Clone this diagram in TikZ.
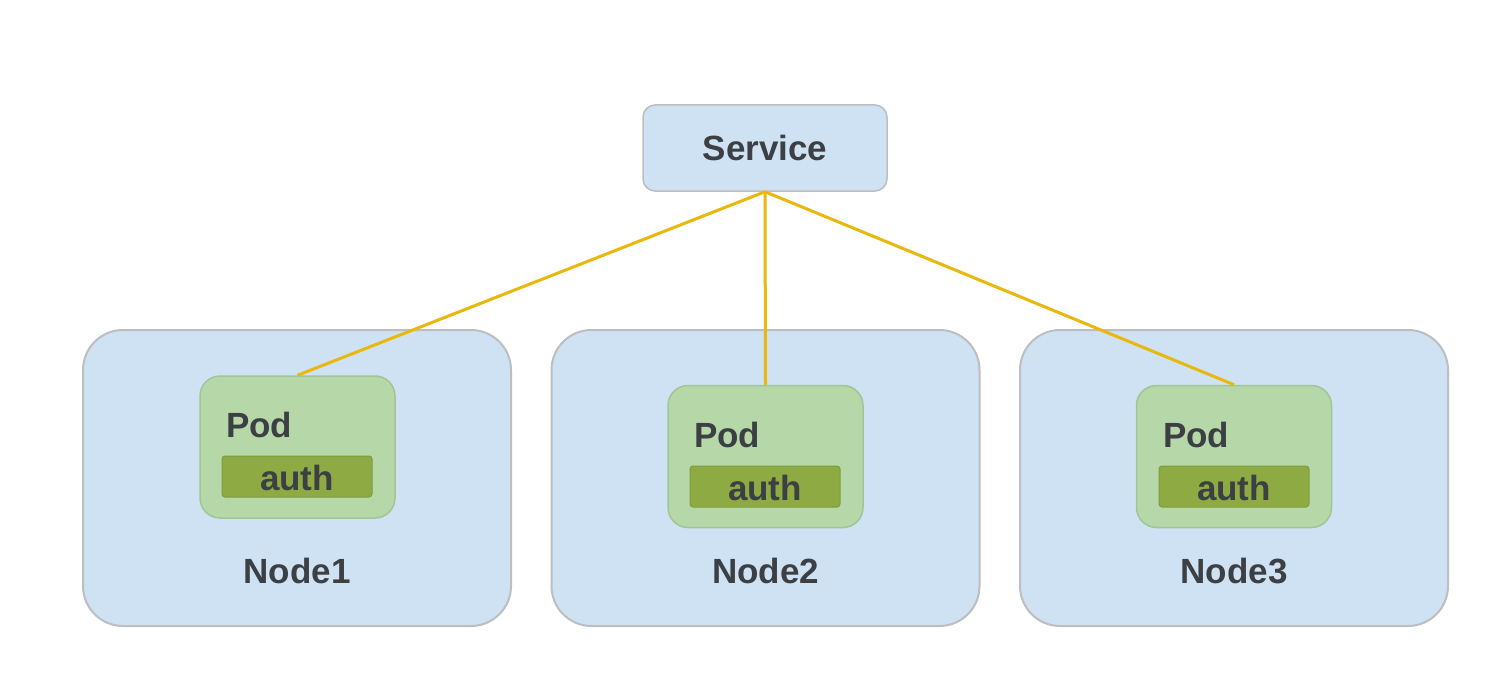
\documentclass[tikz,border=0pt]{standalone}
\usepackage{fontspec}
\setmainfont{Liberation Sans}
\definecolor{txt}{HTML}{3C3F43}
\definecolor{nodefill}{HTML}{CFE2F3}
\definecolor{nodeline}{HTML}{BDBEC0}
\definecolor{podfill}{HTML}{B6D7A8}
\definecolor{podline}{HTML}{A3C496}
\definecolor{authfill}{HTML}{8DAB42}
\definecolor{wire}{HTML}{E8B80C}
\tikzset{
  hostbox/.style={draw=nodeline, line width=2pt, fill=nodefill, rounded corners=40pt, minimum width=428pt, minimum height=296pt, inner sep=0pt},
  podbox/.style={draw=podline, line width=1.5pt, fill=podfill, rounded corners=20pt, minimum width=195pt, minimum height=142pt, inner sep=0pt},
  authbar/.style={draw=authfill!85!black!60!authfill, line width=1pt, fill=authfill, rounded corners=3pt, minimum width=150pt, minimum height=41pt, inner sep=0pt},
  svcbox/.style={draw=nodeline, line width=1.5pt, fill=nodefill, rounded corners=12pt, minimum width=244pt, minimum height=86pt, inner sep=0pt},
  lbl/.style={text=txt, font=\fontsize{35}{40}\selectfont\bfseries, inner sep=0pt},
  wireline/.style={draw=wire, line width=3pt},
}
\begin{document}
\begin{tikzpicture}[x=1pt,y=-1pt]
\useasboundingbox[fill=white] (0,0) rectangle (1494,682);
% hosts
\node[hostbox] (h1) at (297,478) {};
\node[hostbox] (h2) at (765.5,478) {};
\node[hostbox] (h3) at (1234,478) {};
\node[lbl] (h1l) at (297,571) {Node1};
\node[lbl] (h2l) at (765.5,571) {Node2};
\node[lbl] (h3l) at (1234,571) {Node3};
% service
\node[svcbox] (svc) at (765,148) {};
\node[lbl] (svcl) at (765,148) {Service};
% pods
\node[podbox] (p1) at (297.5,447) {};
\node[podbox] (p2) at (765.5,456.5) {};
\node[podbox] (p3) at (1234,456.5) {};
% wires
\draw[wireline] (svc.south) -- (p1.north);
\draw[wireline] (svc.south) -- (p2.north);
\draw[wireline] (svc.south) -- (p3.north);
% pod labels
\node[lbl, anchor=base west] (p1l) at (226,437) {Pod};
\node[lbl, anchor=base west] (p2l) at (694,447) {Pod};
\node[lbl, anchor=base west] (p3l) at (1163,447) {Pod};
% auth bars
\node[authbar] (a1) at (297,476.5) {};
\node[authbar] (a2) at (765,486.5) {};
\node[authbar] (a3) at (1234,486.5) {};
\node[lbl] (a1l) at (297,478) {auth};
\node[lbl] (a2l) at (765,488) {auth};
\node[lbl] (a3l) at (1234,488) {auth};
\end{tikzpicture}
\end{document}
